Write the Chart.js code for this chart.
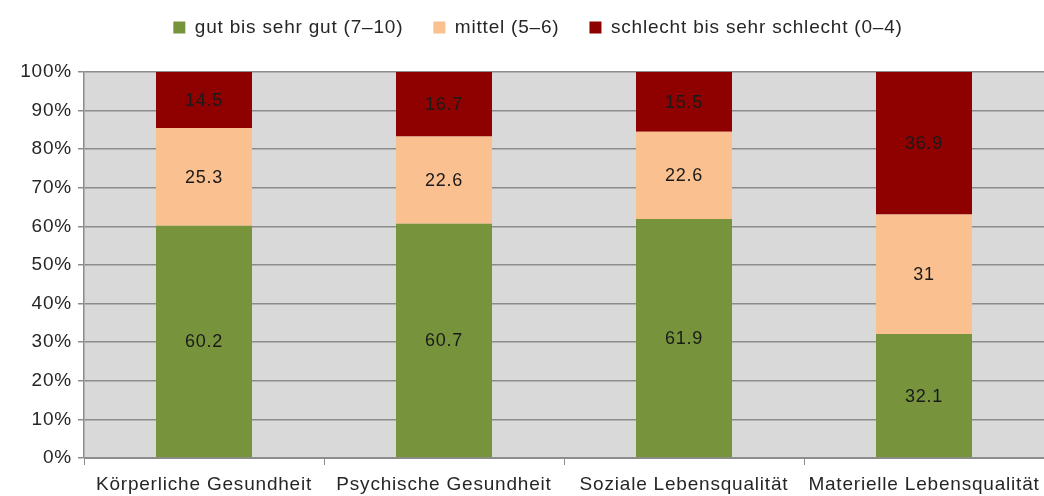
<!DOCTYPE html>
<html>
<head>
<meta charset="utf-8">
<script src="https://cdn.jsdelivr.net/npm/chart.js@4"></script>
<style>
    html, body { margin: 0; padding: 0; background: #ffffff; }
    #wrap { width: 1044px; height: 496px; }
</style>
</head>
<body>
<div id="wrap"><canvas id="chart"></canvas></div>
<script>
// =====================================
// DATA
// =====================================
const categories = ["Körperliche Gesundheit", "Psychische Gesundheit", "Soziale Lebensqualität", "Materielle Lebensqualität"];
const gutValues = [60.2, 60.7, 61.9, 32.1];
const mittelValues = [25.3, 22.6, 22.6, 31];
const schlechtValues = [14.5, 16.7, 15.5, 36.9];
const seriesNames = ["gut bis sehr gut (7\u201310)", "mittel (5\u20136)", "schlecht bis sehr schlecht (0\u20134)"];

const FONT = "'Liberation Sans', Arial, sans-serif";
const SPACING = "0.8px";

// =====================================
// PLUGINS
// =====================================
const textSpacing = {
    id: "textSpacing",
    beforeInit(chart) { chart.ctx.letterSpacing = SPACING; },
    beforeUpdate(chart) { chart.ctx.letterSpacing = SPACING; },
    beforeDraw(chart) { chart.ctx.letterSpacing = SPACING; }
};

const plotBackground = {
    id: "plotBackground",
    beforeDraw(chart) {
        const a = chart.chartArea;
        const ctx = chart.ctx;
        ctx.save();
        ctx.fillStyle = "#d9d9d9";
        ctx.fillRect(a.left, a.top, a.right - a.left, a.bottom - a.top);
        ctx.restore();
    }
};

const valueLabels = {
    id: "valueLabels",
    afterDatasetsDraw(chart) {
        const ctx = chart.ctx;
        ctx.save();
        ctx.font = "18px " + FONT;
        ctx.fillStyle = "#1a1a1a";
        ctx.textAlign = "center";
        ctx.textBaseline = "middle";
        chart.data.datasets.forEach((ds, i) => {
            chart.getDatasetMeta(i).data.forEach((bar, j) => {
                const mid = (bar.y + bar.base) / 2;
                ctx.fillText(String(ds.data[j]), bar.x, mid + 1);
            });
        });
        ctx.restore();
    }
};

// fixed legend height, legend drawn a bit higher and right
const legendFix = {
    id: "legendFix",
    afterInit(chart) {
        const lg = chart.legend;
        if (!lg) return;
        const origFit = lg.fit;
        lg.fit = function() {
            origFit.call(this);
            this.height = 72;
        };
        const origDraw = lg.draw;
        lg.draw = function() {
            const ctx = chart.ctx;
            ctx.save();
            ctx.translate(16, -12);
            origDraw.call(this);
            ctx.restore();
        };
    }
};

// =====================================
// CHART
// =====================================
new Chart(document.getElementById("chart"), {
    type: "bar",
    data: {
        labels: categories,
        datasets: [
            { label: seriesNames[0], data: gutValues, backgroundColor: "#77933c" },
            { label: seriesNames[1], data: mittelValues, backgroundColor: "#fac090" },
            { label: seriesNames[2], data: schlechtValues, backgroundColor: "#8f0000" }
        ]
    },
    options: {
        responsive: true,
        maintainAspectRatio: false,
        animation: false,
        layout: { padding: { left: 0, right: 0, top: 0, bottom: 0 } },
        datasets: { bar: { categoryPercentage: 0.4, barPercentage: 1.0 } },
        plugins: {
            legend: {
                position: "top",
                labels: {
                    font: { family: FONT, size: 19 },
                    color: "#262626",
                    boxWidth: 12,
                    boxHeight: 12,
                    padding: 30
                }
            },
            tooltip: { enabled: false }
        },
        scales: {
            x: {
                stacked: true,
                offset: true,
                grid: {
                    offset: true,
                    drawOnChartArea: false,
                    drawTicks: true,
                    tickLength: 7,
                    color: "#8c8c8c"
                },
                border: { color: "#8c8c8c", width: 1 },
                ticks: {
                    font: { family: FONT, size: 19 },
                    color: "#262626",
                    padding: 8,
                    maxRotation: 0
                },
                afterFit(scale) {
                    scale.height = 38;
                    scale.paddingLeft = 0;
                    scale.paddingRight = 0;
                }
            },
            y: {
                stacked: true,
                min: 0,
                max: 100,
                grid: {
                    color: "#8c8c8c",
                    lineWidth: 1.5,
                    tickLength: 6
                },
                border: { color: "#8c8c8c", width: 1.5 },
                ticks: {
                    stepSize: 10,
                    font: { family: FONT, size: 19 },
                    color: "#262626",
                    padding: 6,
                    callback: v => v + "%"
                },
                afterFit(scale) { scale.width = 84; }
            }
        }
    },
    plugins: [textSpacing, plotBackground, valueLabels, legendFix]
});
</script>
</body>
</html>
